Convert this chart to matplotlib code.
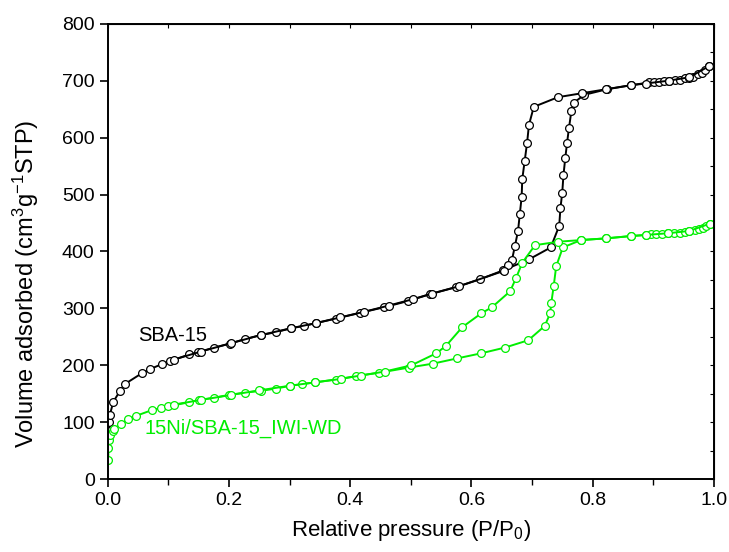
import numpy as np
import matplotlib.pyplot as plt
from matplotlib.ticker import MultipleLocator, FormatStrFormatter

# SBA-15 isotherm (adsorption / desorption)
sba_ads_p = [0.001, 0.002, 0.003, 0.009, 0.020, 0.028, 0.056, 0.069, 0.089, 0.102,
             0.134, 0.149, 0.175, 0.201, 0.226, 0.252, 0.277, 0.302, 0.323, 0.343,
             0.376, 0.416, 0.456, 0.496, 0.532, 0.574, 0.614, 0.653, 0.695, 0.731,
             0.745, 0.747, 0.750, 0.752, 0.755, 0.758, 0.761, 0.765, 0.769, 0.786,
             0.824, 0.864, 0.894, 0.901, 0.909, 0.918, 0.926, 0.936, 0.944, 0.952,
             0.960, 0.966, 0.974, 0.980, 0.985, 0.993]
sba_ads_v = [85, 100, 112, 136, 155, 167, 186, 193, 202, 207,
             219, 223, 231, 238, 246, 253, 258, 265, 269, 274,
             282, 292, 302, 313, 325, 337, 351, 367, 386, 407,
             445, 476, 503, 534, 564, 591, 616, 646, 661, 675,
             685, 692, 697, 697, 698, 699, 700, 701, 702, 704,
             705, 706, 711, 714, 718, 726]
sba_des_p = [0.993, 0.960, 0.926, 0.888, 0.863, 0.823, 0.783, 0.743, 0.703, 0.695,
             0.692, 0.688, 0.684, 0.683, 0.680, 0.677, 0.672, 0.667, 0.661, 0.654,
             0.580, 0.535, 0.503, 0.464, 0.423, 0.383, 0.343, 0.302, 0.252, 0.204,
             0.153, 0.109]
sba_des_v = [726, 706, 700, 695, 692, 685, 678, 671, 654, 622,
             591, 559, 527, 496, 466, 436, 410, 385, 376, 366,
             339, 326, 316, 305, 294, 284, 274, 265, 253, 239,
             224, 210]

# 15Ni/SBA-15_IWI-WD isotherm
ni_ads_p = [0.0005, 0.001, 0.002, 0.003, 0.008, 0.010, 0.021, 0.034, 0.046, 0.072,
            0.087, 0.100, 0.134, 0.150, 0.175, 0.200, 0.226, 0.252, 0.277, 0.301,
            0.321, 0.342, 0.376, 0.410, 0.448, 0.497, 0.537, 0.576, 0.616, 0.655,
            0.694, 0.721, 0.730, 0.732, 0.736, 0.740, 0.751, 0.781, 0.823, 0.863,
            0.889, 0.897, 0.905, 0.915, 0.925, 0.934, 0.944, 0.952, 0.960, 0.969,
            0.976, 0.982, 0.988, 0.994]
ni_ads_v = [33, 54, 68, 77, 84, 88, 97, 105, 111, 121,
            125, 128, 135, 139, 143, 148, 152, 155, 159, 164,
            167, 170, 175, 181, 187, 196, 203, 212, 221, 231,
            244, 269, 291, 310, 340, 374, 407, 420, 423, 427,
            429, 430, 431, 431, 432, 433, 433, 435, 436, 438,
            439, 442, 445, 449]
ni_des_p = [0.994, 0.960, 0.925, 0.889, 0.863, 0.823, 0.781, 0.743, 0.705, 0.684,
            0.674, 0.664, 0.634, 0.616, 0.585, 0.558, 0.542, 0.501, 0.457, 0.417,
            0.384, 0.342, 0.300, 0.250, 0.204, 0.153, 0.109]
ni_des_v = [449, 436, 432, 429, 427, 423, 420, 417, 411, 380,
            354, 330, 302, 291, 267, 234, 221, 200, 189, 182,
            176, 170, 164, 156, 148, 139, 131]

green = "#00ee00"

plt.rcParams["font.family"] = ["Liberation Sans", "DejaVu Sans"]
plt.rcParams["mathtext.fontset"] = "custom"
plt.rcParams["mathtext.rm"] = "Liberation Sans"
plt.rcParams["mathtext.it"] = "Liberation Sans"

fig = plt.figure(figsize=(7.29, 5.52), dpi=100)
ax = fig.add_axes([0.148, 0.132, 0.831, 0.825])

mk = dict(marker="o", markersize=5.6, markerfacecolor="white", markeredgewidth=0.9, linewidth=1.4)
ax.plot(sba_ads_p, sba_ads_v, color="black", **mk)
ax.plot(sba_des_p, sba_des_v, color="black", **mk)
ax.plot(ni_ads_p, ni_ads_v, color=green, **mk)
ax.plot(ni_des_p, ni_des_v, color=green, **mk)

ax.text(0.05, 253, "SBA-15", fontsize=14.5, color="black", va="center")
ax.text(0.061, 90, "15Ni/SBA-15_IWI-WD", fontsize=14.5, color=green, va="center")

ax.set_xlim(0, 1.0)
ax.set_ylim(0, 800)
ax.xaxis.set_major_locator(MultipleLocator(0.2))
ax.xaxis.set_minor_locator(MultipleLocator(0.1))
ax.xaxis.set_major_formatter(FormatStrFormatter("%.1f"))
ax.yaxis.set_major_locator(MultipleLocator(100))
ax.tick_params(axis="both", which="major", direction="out", length=6, width=1.2, labelsize=14)
ax.tick_params(axis="x", which="minor", direction="out", length=4, width=1.0)

top = ax.secondary_xaxis("top")
top.xaxis.set_major_locator(MultipleLocator(0.1))
top.tick_params(direction="in", length=3, width=0.8, labeltop=False)
right = ax.secondary_yaxis("right")
right.yaxis.set_major_locator(MultipleLocator(50))
right.tick_params(direction="in", length=3, width=0.8, labelright=False)

for s in ax.spines.values():
    s.set_linewidth(1.4)

ax.set_xlabel("Relative pressure (P/P$_0$)", fontsize=16, labelpad=6)
ax.set_ylabel("Volume adsorbed (cm$^3$g$^{\\mathrm{-1}}$STP)", fontsize=17)
ax.yaxis.set_label_coords(-0.11, 0.43)

fig.savefig("out.png", dpi=100)
